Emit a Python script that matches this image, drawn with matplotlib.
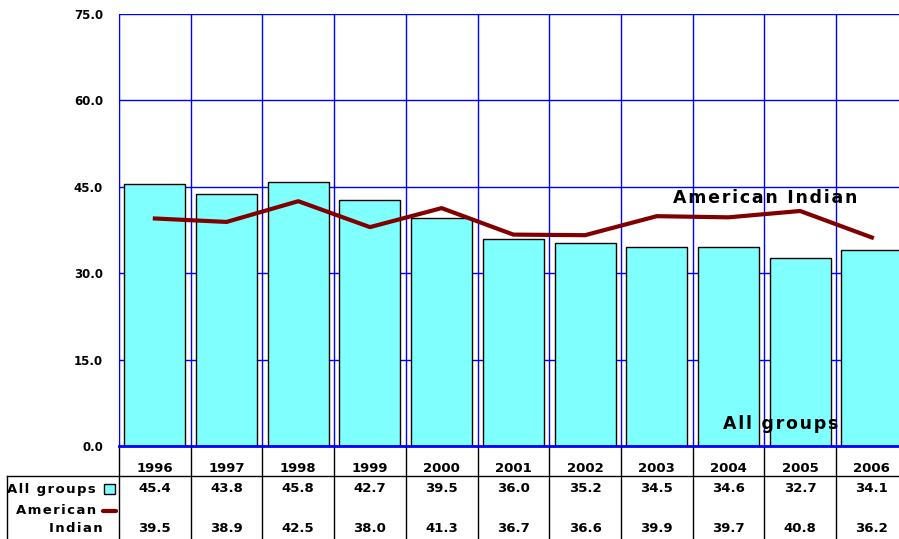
import matplotlib
matplotlib.use("Agg")
import matplotlib.pyplot as plt

years = ["1996", "1997", "1998", "1999", "2000", "2001", "2002", "2003", "2004", "2005", "2006"]
all_groups = [45.4, 43.8, 45.8, 42.7, 39.5, 36.0, 35.2, 34.5, 34.6, 32.7, 34.1]
american_indian = [39.5, 38.9, 42.5, 38.0, 41.3, 36.7, 36.6, 39.9, 39.7, 40.8, 36.2]
y_ticks = [0, 15, 30, 45, 60, 75]

BAR_COLOR = "#80FFFF"
LINE_COLOR = "#800000"
GRID_COLOR = "#0000FF"

plt.rcParams["font.family"] = "DejaVu Sans"
plt.rcParams["font.weight"] = "bold"


def spaced(s):
    # the original uses wide letter spacing; fake it with hair spaces
    return "\u200a".join(s)


fig = plt.figure(figsize=(8.99, 5.39), dpi=100)
# axes run past the right edge of the figure, like in the original
ax = fig.add_axes([119 / 899, 1 - 446 / 539, 788.7 / 899, 432 / 539])

x = list(range(len(years)))
ax.bar(x, all_groups, width=0.85, color=BAR_COLOR, edgecolor="black", linewidth=1, zorder=2)
ax.plot(x, american_indian, color=LINE_COLOR, linewidth=3, zorder=3)

ax.set_xlim(-0.5, len(years) - 0.5)
ax.set_ylim(0, 75)
ax.set_yticks(y_ticks)
ax.set_yticklabels([f"{v:.1f}" for v in y_ticks], fontsize=8.5, fontweight="bold")
ax.set_xticks([])
ax.tick_params(axis="y", length=0, pad=11.5)

# grid: horizontal every 15, vertical at category boundaries
for v in y_ticks[1:]:
    ax.axhline(v, color=GRID_COLOR, linewidth=1, zorder=1)
for i in range(len(years) + 1):
    ax.axvline(i - 0.5, color=GRID_COLOR, linewidth=1, zorder=1)
for side in ["top", "right"]:
    ax.spines[side].set_visible(False)
ax.spines["left"].set_color(GRID_COLOR)
ax.spines["bottom"].set_color(GRID_COLOR)
ax.spines["bottom"].set_linewidth(2)
ax.spines["bottom"].set_zorder(4)

# labels inside the plot
ax.text(7.23, 43.0, spaced("American Indian"), fontsize=12.5, fontweight="bold",
        ha="left", va="center", zorder=5)
ax.text(7.92, 3.8, spaced("All groups"), fontsize=12.5, fontweight="bold",
        ha="left", va="center", zorder=5)

# data table under the chart
tr = ax.get_xaxis_transform()
px = lambda y: (446 - y) / 432  # pixel row -> axes fraction
y_year, y_all, y_am, y_ind = px(468), px(489), px(511), px(529)
y_hline, y_bottom = px(476), px(545)

for i, yr in enumerate(years):
    ax.text(i, y_year, yr, transform=tr, ha="center", va="center", fontsize=9.5, fontweight="bold")
    ax.text(i, y_all, f"{all_groups[i]:.1f}", transform=tr, ha="center", va="center",
            fontsize=9.5, fontweight="bold")
    ax.text(i, y_ind, f"{american_indian[i]:.1f}", transform=tr, ha="center", va="center",
            fontsize=9.5, fontweight="bold")

for i in range(len(years) + 1):
    ax.plot([i - 0.5, i - 0.5], [0, y_bottom], transform=tr, color="black", linewidth=1,
            clip_on=False)

# horizontal table line and left border (figure coords for the left part)
ax.plot([-0.5, len(years) - 0.5], [y_hline, y_hline], transform=tr, color="black",
        linewidth=1, clip_on=False)
fig.add_artist(plt.Line2D([7 / 899, 119 / 899], [1 - 476 / 539] * 2, color="black", linewidth=1))
fig.add_artist(plt.Line2D([7 / 899, 7 / 899], [1 - 476 / 539, 0], color="black", linewidth=1))

# row labels with legend keys
fig.text(96 / 899, 1 - 489 / 539, spaced("All groups"), ha="right", va="center", fontsize=9.5,
         fontweight="bold")
fig.add_artist(plt.Rectangle((104 / 899, 1 - 494 / 539), 11 / 899, 10 / 539,
                             facecolor=BAR_COLOR, edgecolor="black", linewidth=1))
fig.text(96 / 899, 1 - 511 / 539, spaced("American"), ha="right", va="center", fontsize=9.5,
         fontweight="bold")
fig.add_artist(plt.Line2D([103 / 899, 116 / 899], [1 - 511 / 539] * 2, color=LINE_COLOR,
                          linewidth=3, solid_capstyle="round"))
fig.text(103 / 899, 1 - 529 / 539, spaced("Indian"), ha="right", va="center", fontsize=9.5,
         fontweight="bold")

fig.savefig("out.png", dpi=100)
